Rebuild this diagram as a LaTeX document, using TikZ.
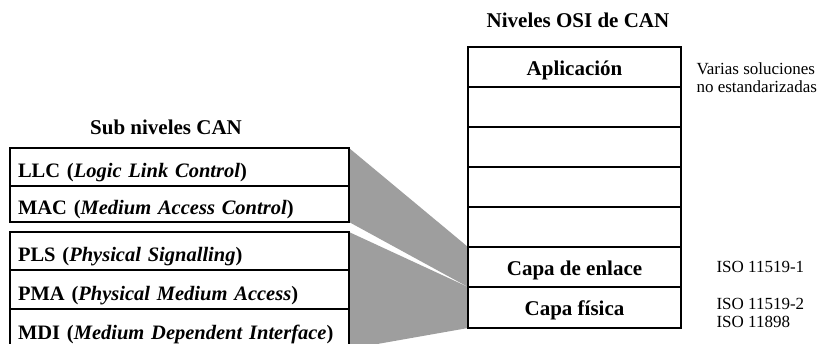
\documentclass[tikz,border=0pt]{standalone}
\usepackage{fontspec}
\setmainfont{Liberation Serif}
\usetikzlibrary{positioning, backgrounds}

\begin{document}
\begin{tikzpicture}[x=1pt, y=-1pt,
  layer/.style={draw, line width=1.1pt, outer sep=0pt, inner sep=0pt, minimum width=213pt, minimum height=40pt, text height=16pt, text depth=0pt, font=\fontsize{21}{24}\selectfont\bfseries},
  sublayer/.style={draw, line width=1.1pt, outer sep=0pt, inner xsep=8pt, inner ysep=0pt, text width=323pt, align=left, minimum height=37pt, text height=21pt, text depth=0pt, font=\fontsize{20.5}{24}\selectfont\bfseries},
  title/.style={font=\fontsize{21}{24}\selectfont\bfseries},
  note/.style={anchor=west, align=left, font=\fontsize{17}{18}\selectfont},
  shade/.style={fill=black!38}]
  \useasboundingbox (0,0) rectangle (835,343);
  % OSI levels
  \node[title] (osi) at (578,20) {Niveles OSI de CAN};
  \node[layer, anchor=north west] (app) at (468,47) {Aplicaci\'on};
  \node[layer, below=0pt of app] (l6) {};
  \node[layer, below=0pt of l6] (l5) {};
  \node[layer, below=0pt of l5] (l4) {};
  \node[layer, below=0pt of l4] (l3) {};
  \node[layer, below=0pt of l3] (enlace) {Capa de enlace};
  \node[layer, below=0pt of enlace, minimum height=41pt] (fisica) {Capa f\'isica};
  % CAN sublevels
  \node[title] (subcan) at (166,127) {Sub niveles CAN};
  \node[sublayer, anchor=north west, minimum height=38pt] (llc) at (10,148) {LLC (\textit{Logic Link Control})};
  \node[sublayer, below=0pt of llc, minimum height=36pt] (mac) {MAC (\textit{Medium Access Control})};
  \node[sublayer, anchor=north west, minimum height=38pt] (pls) at (10,232) {PLS (\textit{Physical Signalling})};
  \node[sublayer, below=0pt of pls, minimum height=39pt] (pma) {PMA (\textit{Physical Medium Access})};
  \node[sublayer, below=0pt of pma, minimum height=40pt] (mdi) {MDI (\textit{Medium Dependent Interface})};
  % mapping
  \begin{scope}[on background layer]
    \fill[shade] (llc.north east) -- (enlace.north west) -- (enlace.south west) -- (mac.south east) -- cycle;
    \fill[shade] (pls.north east) -- (fisica.north west) -- (fisica.south west) -- (mdi.south east) -- cycle;
  \end{scope}
  % standards
  \node[note] (varias) at (693,78) {Varias soluciones\\no estandarizadas};
  \node[note] (iso1) at (713,267) {ISO 11519-1};
  \node[note] (iso2) at (713,313) {ISO 11519-2\\ISO 11898};
\end{tikzpicture}
\end{document}
